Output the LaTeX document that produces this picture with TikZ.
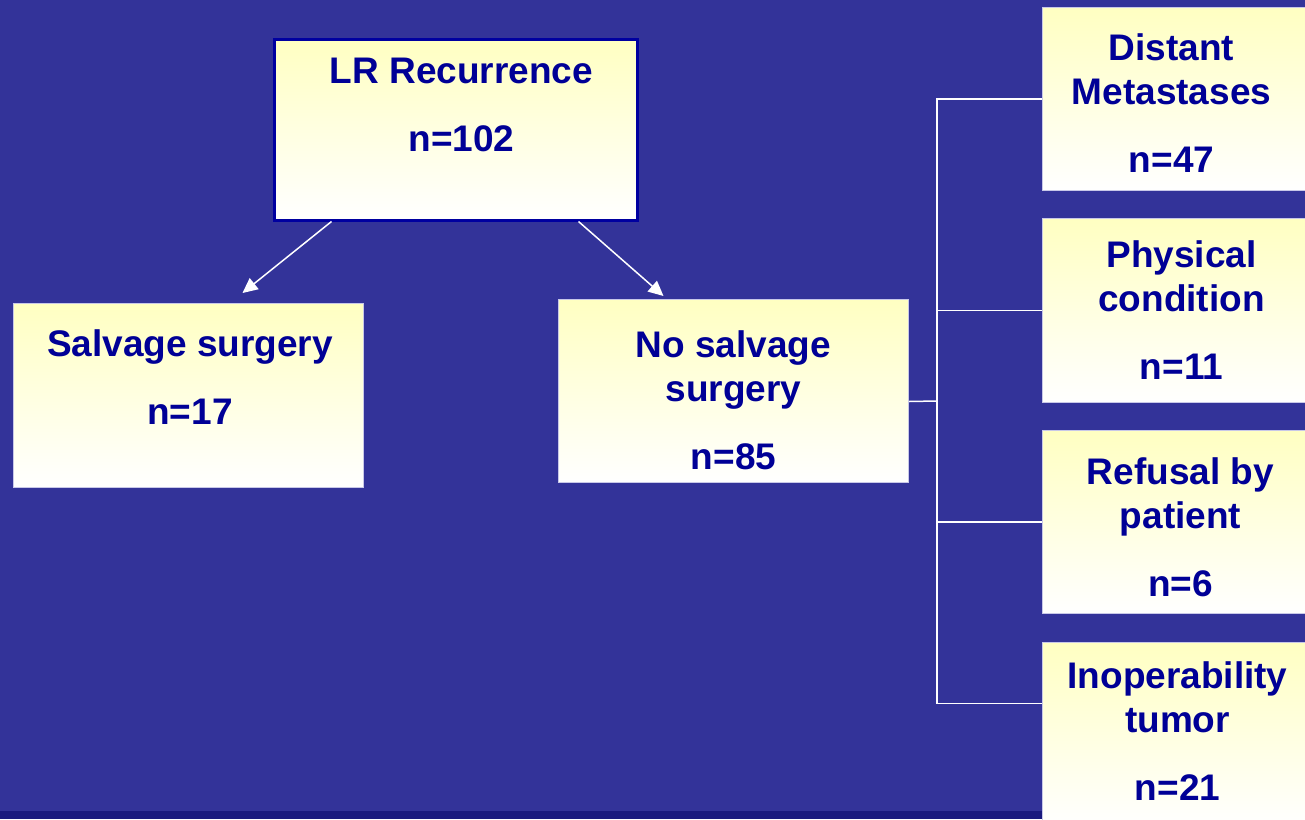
\documentclass[tikz,border=0pt]{standalone}
\usepackage{fontspec}
\setmainfont{Liberation Sans}
\usetikzlibrary{arrows.meta}
\usetikzlibrary{positioning}

\definecolor{slidebg}{RGB}{51,51,153}
\definecolor{slidebar}{RGB}{26,26,126}
\definecolor{textblue}{RGB}{0,0,150}
\definecolor{boxedge}{RGB}{200,200,232}
\definecolor{rootedge}{RGB}{0,0,160}

\begin{document}
\begin{tikzpicture}[
        x=1pt, y=-1pt,
        box/.style={rectangle, draw=boxedge, line width=1pt, top color=yellow!24, bottom color=white, anchor=north west, inner sep=0pt},
        txt/.style={align=center, inner sep=0pt, text=textblue, font=\fontsize{37}{44}\selectfont\bfseries},
        arrow/.style={-{Triangle[length=15pt, width=14pt]}, white, line width=1.5pt},
        link/.style={white, line width=1.5pt}
    ]

    % Slide background
    \clip (0,0) rectangle (1305,819);
    \fill[slidebg] (0,0) rectangle (1305,819);
    \fill[slidebar] (0,811) rectangle (1305,819);

    % Recurrence and the two treatment groups
    \node[box, draw=rootedge, line width=3pt, minimum width=363pt, minimum height=181pt] (lr) at (272.5,37.5) {};
    \node[box, minimum width=350pt, minimum height=184pt] (sal) at (13,303) {};
    \node[box, minimum width=350pt, minimum height=183pt] (ns) at (558,299) {};

    % Reasons for no salvage surgery
    \node[box, minimum width=268pt, minimum height=183pt] (dm) at (1042,7) {};
    \node[box, minimum width=268pt, minimum height=184pt] (pc) at (1042,218) {};
    \node[box, minimum width=268pt, minimum height=183pt] (rp) at (1042,430) {};
    \node[box, minimum width=268pt, minimum height=184pt] (io) at (1042,642) {};

    % Texts
    \node[txt, below=20.5pt of lr.north, xshift=6pt] (lrtxt) {LR Recurrence\\[24pt]n=102};
    \node[txt, below=26pt of sal.north, xshift=1.5pt] (saltxt) {Salvage surgery\\[24pt]n=17};
    \node[txt, below=31pt of ns.north] (nstxt) {No salvage\\surgery\\[24pt]n=85};
    \node[txt, below=26pt of dm.north, xshift=-5pt] (dmtxt) {Distant\\Metastases\\[24pt]n=47};
    \node[txt, below=22pt of pc.north, xshift=5pt] (pctxt) {Physical\\condition\\[24pt]n=11};
    \node[txt, below=27pt of rp.north, xshift=4pt] (rptxt) {Refusal by\\patient\\[24pt]n=6};
    \node[txt, below=19pt of io.north, xshift=1pt] (iotxt) {Inoperability\\tumor\\[24pt]n=21};

    % Arrows
    \draw[arrow] ([xshift=-124pt]lr.south) -- ([xshift=54pt, yshift=10pt]sal.north);
    \draw[arrow] ([xshift=123pt]lr.south) -- ([xshift=-70pt, yshift=3pt]ns.north);

    % Fork to the reasons
    \coordinate (fork) at (937,401);
    \draw[link] ([yshift=-10.5pt]ns.east) -- (fork);
    \draw[link] (fork) |- (dm.west);
    \draw[link] (fork) |- (pc.west);
    \draw[link] (fork) |- (rp.west);
    \draw[link] (fork) |- ([yshift=31pt]io.west);

\end{tikzpicture}
\end{document}
